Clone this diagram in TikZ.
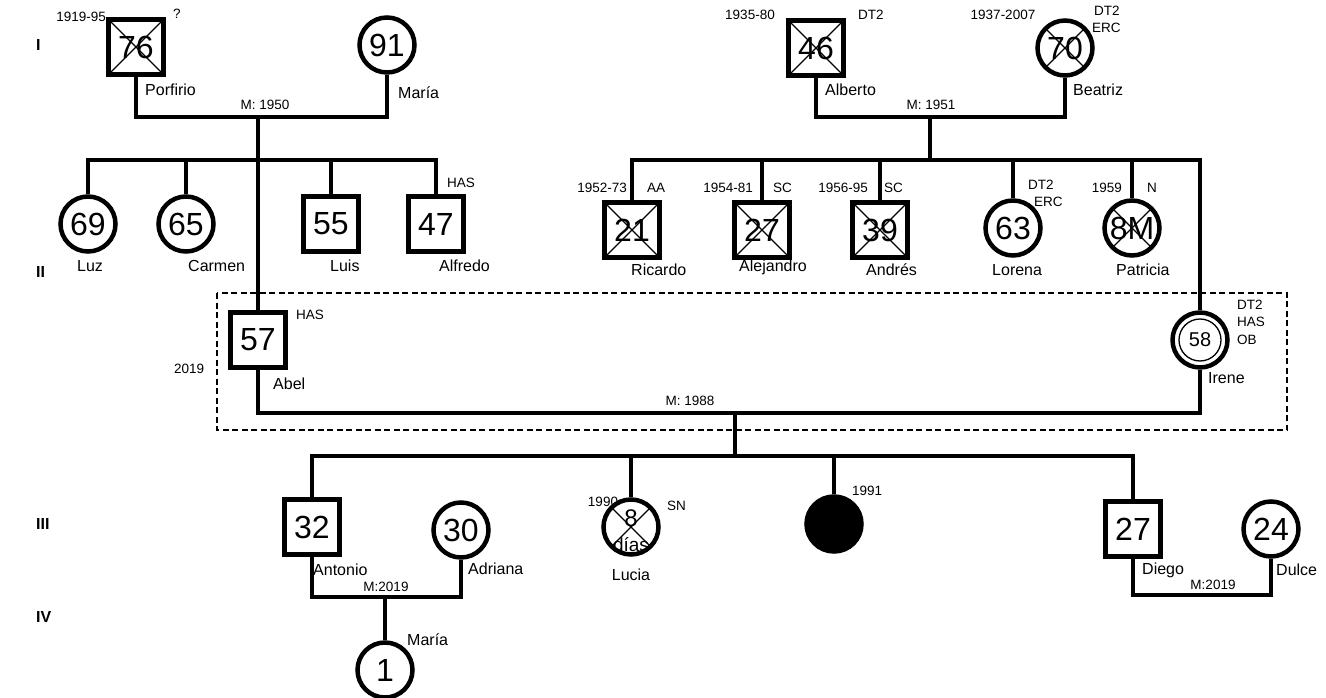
\documentclass[tikz,border=0pt]{standalone}
\usepackage{fontspec}
\setmainfont{Liberation Sans}
\newcommand{\pedNum}{\fontsize{32}{32}\selectfont}
\newcommand{\pedName}{\fontsize{16}{18}\selectfont}
\newcommand{\pedNote}{\fontsize{13.5}{15}\selectfont}
\newcommand{\pedGen}{\fontsize{16}{18}\selectfont\bfseries}
\begin{document}
\begin{tikzpicture}[x=1pt,y=-1pt,
  male/.style={rectangle, draw, line width=4.5pt, minimum size=55pt, inner sep=0pt, font=\pedNum},
  female/.style={circle, draw, line width=4.5pt, minimum size=55pt, inner sep=0pt, font=\pedNum},
  deceased/.style={path picture={\draw[line width=1.2pt]
      (path picture bounding box.north west) -- (path picture bounding box.south east)
      (path picture bounding box.north east) -- (path picture bounding box.south west);}},
  rel/.style={line width=4.5pt},
  pname/.style={font=\pedName, inner sep=0pt, anchor=west},
  pnote/.style={font=\pedNote, inner sep=0pt},
  pgen/.style={font=\pedGen, inner sep=0pt, anchor=west},
  famline/.style={line width=1.8pt, dash pattern=on 6pt off 3.5pt}
]
\useasboundingbox[fill=white] (0,0) rectangle (1326,698);

% generation labels
\node[pgen] (gI) at (36,45) {I};
\node[pgen] (gII) at (36,272) {II};
\node[pgen] (gIII) at (36,524) {III};
\node[pgen] (gIV) at (36,617) {IV};

% family box
\draw[famline] (217,293) rectangle (1287,430);

% ---------- generation I ----------
\node[male,deceased] (porfirio) at (136,47) {76};
\node[female] (maria) at (387,45) {91};
\node[pnote,anchor=east] (t1) at (106,17) {1919-95};
\node[pnote,anchor=west] (t2) at (173,14) {?};
\node[pname] (n1) at (145,90) {Porfirio};
\node[pname] (n2) at (398,93) {María};
\node[pnote] (mm1) at (265,105) {M: 1950};

\node[male,deceased] (alberto) at (816,48) {46};
\node[female,deceased] (beatriz) at (1065,48) {70};
\node[pnote] (t3) at (750,15) {1935-80};
\node[pnote,anchor=west] (t4) at (858,15) {DT2};
\node[pname] (n3) at (825,90) {Alberto};
\node[pnote] (t5) at (1003,15) {1937-2007};
\node[pnote,anchor=west] (t6) at (1094,11) {DT2};
\node[pnote,anchor=west] (t7) at (1092,28) {ERC};
\node[pname] (n4) at (1073,90) {Beatriz};
\node[pnote] (mm2) at (931,105) {M: 1951};

% ---------- generation II ----------
\node[female] (luz) at (88,224) {69};
\node[female] (carmen) at (186,224) {65};
\node[male] (luis) at (331,224) {55};
\node[male] (alfredo) at (436,224) {47};
\node[pnote,anchor=west] (t8) at (447,183) {HAS};
\node[pname] (n5) at (77,266) {Luz};
\node[pname] (n6) at (188,266) {Carmen};
\node[pname] (n7) at (330,266) {Luis};
\node[pname] (n8) at (439,266) {Alfredo};

\node[male,deceased] (ricardo) at (632,230) {21};
\node[male,deceased] (alejandro) at (762,230) {27};
\node[male,deceased] (andres) at (880,230) {39};
\node[female] (lorena) at (1013,228) {63};
\node[female,deceased] (patricia) at (1132,228) {8M};
\node[pnote,anchor=east] (t9) at (627,188) {1952-73};
\node[pnote,anchor=west] (t10) at (647,188) {AA};
\node[pnote,anchor=east] (t11) at (753,188) {1954-81};
\node[pnote,anchor=west] (t12) at (773,188) {SC};
\node[pnote,anchor=east] (t13) at (868,188) {1956-95};
\node[pnote,anchor=west] (t14) at (884,188) {SC};
\node[pnote,anchor=west] (t15) at (1028,185) {DT2};
\node[pnote,anchor=west] (t16) at (1034,202) {ERC};
\node[pnote,anchor=east] (t17) at (1122,188) {1959};
\node[pnote,anchor=west] (t18) at (1147,188) {N};
\node[pname] (n9) at (631,270) {Ricardo};
\node[pname] (n10) at (739,267) {Alejandro};
\node[pname] (n11) at (866,270) {Andrés};
\node[pname] (n12) at (992,270) {Lorena};
\node[pname] (n13) at (1116,270) {Patricia};

\node[male] (abel) at (258,340) {57};
\node[pnote,anchor=west] (t19) at (296,315) {HAS};
\node[pnote,anchor=west] (t20) at (174,369) {2019};
\node[pname] (n14) at (273,384) {Abel};

\node[female, font=\fontsize{20}{20}\selectfont] (irene) at (1200,340) {58};
\draw[line width=1.3pt] (irene.center) circle (21pt);
\node[pnote,anchor=west] (t21) at (1237,305) {DT2};
\node[pnote,anchor=west] (t22) at (1237,322) {HAS};
\node[pnote,anchor=west] (t23) at (1237,340) {OB};
\node[pname] (n15) at (1208,378) {Irene};
\node[pnote] (mm3) at (690,401) {M: 1988};

% ---------- generation III ----------
\node[male] (antonio) at (312,527) {32};
\node[female] (adriana) at (461,530) {30};
\node[female,deceased] (lucia) at (631,527) {};
\node[font=\fontsize{24}{24}\selectfont, inner sep=0pt] (lucia8) at (631,518) {8};
\node[font=\fontsize{19}{20}\selectfont, inner sep=0pt] (luciadias) at (631,545) {días};
\node[female, fill=black] (baby) at (834,524) {};
\node[male] (diego) at (1133,529) {27};
\node[female] (dulce) at (1271,529) {24};
\node[pname] (n16) at (313,570) {Antonio};
\node[pname] (n17) at (468,569) {Adriana};
\node[pnote] (mm4) at (386,587) {M:2019};
\node[pnote] (t24) at (603,502) {1990};
\node[pnote,anchor=west] (t25) at (667,506) {SN};
\node[pname,anchor=center] (n18) at (631,575) {Lucia};
\node[pnote,anchor=west] (t26) at (852,491) {1991};
\node[pname] (n19) at (1142,570) {Diego};
\node[pname] (n20) at (1276,570) {Dulce};
\node[pnote] (mm5) at (1213,585) {M:2019};

% ---------- generation IV ----------
\node[female] (mariaIV) at (385,670) {1};
\node[pname] (n21) at (407,640) {María};

% ---------- connectors ----------
\coordinate (m1) at (258,117);
\coordinate (s1) at (258,160);
\draw[rel] (porfirio.south) |- (m1) -| (maria.south);
\draw[rel] (m1) -- (abel.north);
\draw[rel] (luz.north) -- (luz.north |- s1) -- (alfredo.north |- s1) -- (alfredo.north);
\draw[rel] (carmen.north) -- (carmen.north |- s1);
\draw[rel] (luis.north) -- (luis.north |- s1);

\coordinate (m2) at (930,117);
\coordinate (s2) at (930,160);
\draw[rel] (alberto.south) |- (m2) -| (beatriz.south);
\draw[rel] (m2) -- (s2);
\draw[rel] (ricardo.north) -- (ricardo.north |- s2) -- (irene.north |- s2) -- (irene.north);
\draw[rel] (alejandro.north) -- (alejandro.north |- s2);
\draw[rel] (andres.north) -- (andres.north |- s2);
\draw[rel] (lorena.north) -- (lorena.north |- s2);
\draw[rel] (patricia.north) -- (patricia.north |- s2);

\coordinate (m3) at (735,413);
\coordinate (s3) at (735,456);
\draw[rel] (abel.south) |- (m3) -| (irene.south);
\draw[rel] (m3) -- (s3);
\draw[rel] (antonio.north) -- (antonio.north |- s3) -- (diego.north |- s3) -- (diego.north);
\draw[rel] (lucia.north) -- (lucia.north |- s3);
\draw[rel] (baby.north) -- (baby.north |- s3);

\coordinate (m4) at (385,597);
\draw[rel] (antonio.south) |- (m4) -| (adriana.south);
\draw[rel] (m4) -- (mariaIV.north);

\coordinate (m5) at (1212,595);
\draw[rel] (diego.south) |- (m5) -| (dulce.south);
\end{tikzpicture}
\end{document}
